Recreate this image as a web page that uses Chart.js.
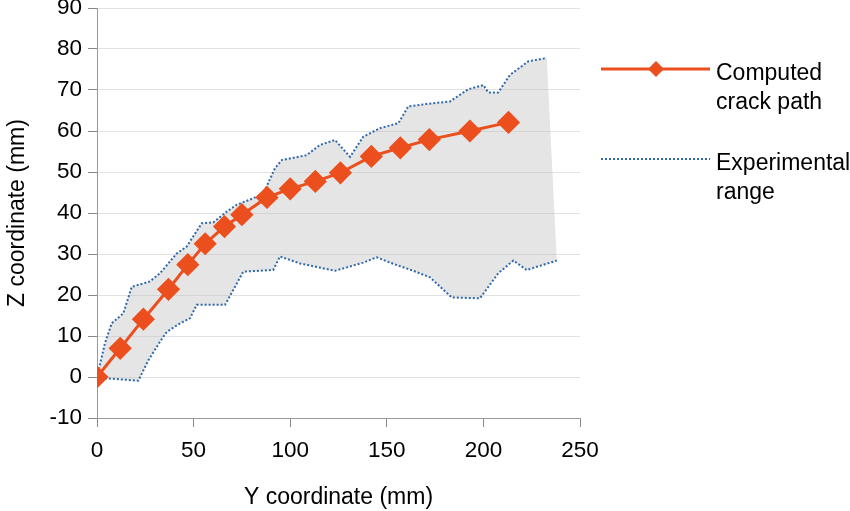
<!DOCTYPE html>
<html>
<head>
<meta charset="utf-8">
<script src="https://cdn.jsdelivr.net/npm/chart.js@4.4.0/dist/chart.umd.min.js"></script>
<style>
  html, body { margin: 0; padding: 0; background: #fff; }
  #wrap { position: relative; width: 850px; height: 511px; }
  .lg { position: absolute; font-family: "Liberation Sans", Arial, sans-serif; font-size: 23px; line-height: 29px; color: #000; white-space: nowrap; }
</style>
</head>
<body>
<div id="wrap">
  <canvas id="myChart" width="850" height="511"></canvas>
  <svg style="position:absolute;left:600px;top:59px" width="112" height="20">
    <line x1="1" y1="10" x2="110" y2="10" stroke="#ec4f1e" stroke-width="3"/>
    <polygon points="56,2 64,10 56,18 48,10" fill="#ec4f1e"/>
  </svg>
  <div class="lg" style="left:716px;top:58px">Computed<br>crack path</div>
  <svg style="position:absolute;left:600px;top:150px" width="112" height="20">
    <line x1="1" y1="9" x2="110" y2="9" stroke="#2f68aa" stroke-width="2" stroke-dasharray="2,2"/>
  </svg>
  <div class="lg" style="left:716px;top:148px">Experimental<br>range</div>
</div>
<script>
// Computed crack path
const crackY = [0, 12, 24, 37, 47, 56, 66, 75, 88, 100, 113, 126, 142, 157, 172, 193, 213];
const crackZ = [0, 7, 14.1, 21.4, 27.4, 32.5, 36.7, 39.6, 43.8, 45.9, 47.7, 49.8, 53.8, 55.9, 57.9, 60, 62.1];

// Experimental range, upper boundary
const upperY = [0, 4.1, 7.6, 13.6, 18, 27.4, 32.6, 41.2, 46.4, 54.2, 60.2, 67.1, 72.3, 80.9, 86.1, 92.1, 95.6,
                108.5, 115.4, 123.2, 131, 137.8, 146.5, 156, 161.1, 170.6, 182.7, 192.2, 200, 202.5, 207.7, 213.8, 223.3, 232.8];
const upperZ = [0, 8.2, 13.1, 15.5, 22, 23.3, 25.3, 30.1, 31.8, 37.5, 37.7, 40.3, 42, 43.6, 44.8, 50.9, 52.9,
                54.1, 56.6, 57.8, 53.7, 58.6, 60.7, 61.9, 66, 66.6, 67.2, 70.2, 71.2, 69.4, 69.4, 73.7, 77, 77.8];

// Experimental range, lower boundary
const lowerY = [0, 4, 21.4, 26.6, 32.6, 36.1, 43, 48.1, 51.6, 66.3, 75.7, 91.2, 94.7, 105.1, 123.2, 137.8, 144.7,
                153.4, 163.7, 172.4, 183.6, 198.2, 207.7, 215.5, 222.4, 238];
const lowerZ = [0, -0.3, -0.9, 4.1, 8.6, 11, 13.1, 14.3, 17.6, 17.6, 25.7, 26.1, 29.4, 27.7, 25.9, 27.9, 29.2,
                27.6, 25.9, 24.3, 19.4, 19.2, 25.3, 28.4, 26.1, 28.4];

const yTicks = [-10, 0, 10, 20, 30, 40, 50, 60, 70, 80, 90];
const xTicks = [0, 50, 100, 150, 200, 250];

function pts(xs, ys) {
    var out = [];
    for (var i = 0; i < xs.length; i++) {
        out.push({x: xs[i], y: ys[i]});
    }
    return out;
}

var upper = pts(upperY, upperZ);
var lower = pts(lowerY, lowerZ);
// closed outline for the grey band
var band = upper.concat(lower.slice().reverse());

const tickFont = {family: '"Liberation Sans", Arial, sans-serif', size: 22.5};
const titleFont = {family: '"Liberation Sans", Arial, sans-serif', size: 23};

const ctx = document.getElementById('myChart');
new Chart(ctx, {
    type: 'scatter',
    data: {
        datasets: [{
            label: 'Computed crack path',
            data: pts(crackY, crackZ),
            showLine: true,
            borderColor: '#ec4f1e',
            backgroundColor: '#ec4f1e',
            borderWidth: 3,
            pointStyle: 'rectRot',
            pointRadius: 9.5,
            pointHoverRadius: 9.5,
            order: 1
        }, {
            label: 'Experimental range',
            data: upper,
            showLine: true,
            borderColor: '#2f68aa',
            borderWidth: 2,
            borderDash: [2, 2],
            pointRadius: 0,
            order: 2
        }, {
            label: 'lower',
            data: lower,
            showLine: true,
            borderColor: '#2f68aa',
            borderWidth: 2,
            borderDash: [2, 2],
            pointRadius: 0,
            order: 2
        }, {
            label: 'band',
            data: band,
            showLine: true,
            borderWidth: 0,
            borderColor: 'rgba(0,0,0,0)',
            backgroundColor: 'rgba(190,190,190,0.4)',
            pointRadius: 0,
            fill: 'shape',
            order: 3
        }]
    },
    options: {
        responsive: false,
        animation: false,
        layout: {autoPadding: false, padding: {top: 8, right: 270, left: 0, bottom: 0}},
        plugins: {
            legend: {display: false},
            tooltip: {enabled: false}
        },
        scales: {
            x: {
                type: 'linear',
                min: 0,
                max: 250,
                afterBuildTicks: function (s) { s.ticks = xTicks.map(function (v) { return {value: v}; }); },
                afterFit: function (s) { s.height = 93; s.paddingLeft = 0; },
                grid: {display: true, drawOnChartArea: false, color: '#888', tickLength: 9},
                border: {color: '#999'},
                ticks: {color: '#000', font: tickFont, padding: 10},
                title: {display: true, text: 'Y coordinate (mm)', color: '#000', font: titleFont, padding: {top: 4, bottom: 0}}
            },
            y: {
                min: -10,
                max: 90,
                afterBuildTicks: function (s) { s.ticks = yTicks.map(function (v) { return {value: v}; }); },
                afterFit: function (s) { s.width = 97; s.paddingTop = 0; s.paddingBottom = 0; },
                grid: {color: '#e2e2e2', tickLength: 9, tickColor: '#888'},
                border: {color: '#999'},
                ticks: {color: '#000', font: tickFont, padding: 6},
                title: {display: true, text: 'Z coordinate (mm)', color: '#000', font: titleFont, padding: {top: 4, bottom: 6}}
            }
        }
    }
});
</script>
</body>
</html>
